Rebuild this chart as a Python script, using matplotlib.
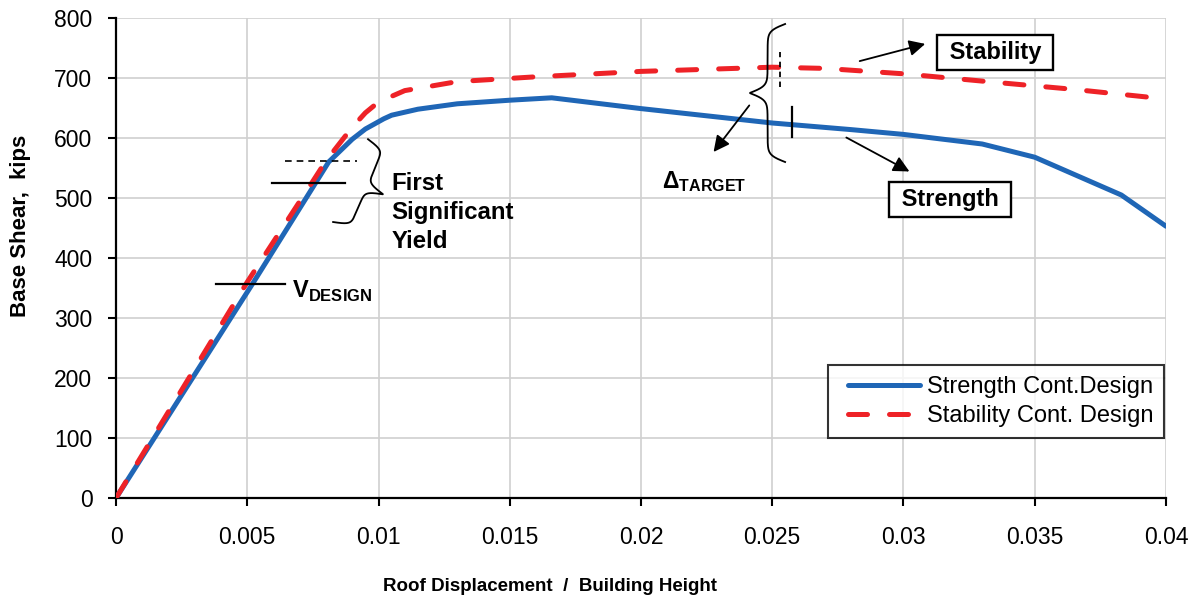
import numpy as np
import matplotlib
matplotlib.use("Agg")
import matplotlib.pyplot as plt
from matplotlib.legend_handler import HandlerLine2D

# pushover curves
drift_strength = [0, 0.0052, 0.0076, 0.0081, 0.009, 0.0095, 0.0102, 0.0105, 0.0115,
                  0.013, 0.015, 0.0166, 0.02, 0.025, 0.028, 0.03, 0.033, 0.035,
                  0.0383, 0.04]
shear_strength = [0, 357, 525, 560, 598, 615, 632, 638, 648,
                  657, 663, 667, 649, 625, 614, 606, 590, 568,
                  505, 453]

drift_stability = [0, 0.005, 0.0075, 0.008, 0.009, 0.0095, 0.01, 0.011, 0.013,
                   0.016, 0.02, 0.025, 0.027, 0.03, 0.0337, 0.0365, 0.04]
shear_stability = [0, 360, 528, 562, 618, 642, 660, 679, 694,
                   702, 711, 718, 716, 707, 692, 681, 665]

x_ticks = [0, 0.005, 0.01, 0.015, 0.02, 0.025, 0.03, 0.035, 0.04]
x_tick_labels = ['0', '0.005', '0.01', '0.015', '0.02', '0.025', '0.03', '0.035', '0.04']
y_ticks = [0, 100, 200, 300, 400, 500, 600, 700, 800]

plt.rcParams['font.family'] = ['Liberation Sans', 'DejaVu Sans']
plt.rcParams['mathtext.fontset'] = 'custom'
plt.rcParams['mathtext.rm'] = 'Liberation Sans:bold'
plt.rcParams['mathtext.bf'] = 'Liberation Sans:bold'

BLUE = '#1f66b6'
RED = '#ee2227'

fig = plt.figure(figsize=(11.95, 5.96), dpi=100)
ax = fig.add_axes([0.0971, 0.1644, 0.8786, 0.8054])

ax.plot(drift_strength, shear_strength, color=BLUE, lw=3.6,
        solid_capstyle='round', label='Strength Cont.Design', zorder=3)
ax.plot(drift_stability, shear_stability, color=RED, lw=3.6, dashes=(3.8, 4.4),
        dash_capstyle='round', label='Stability Cont. Design', zorder=4)

ax.set_xlim(0, 0.04)
ax.set_ylim(0, 800)
ax.set_xticks(x_ticks)
ax.set_xticklabels(x_tick_labels)
ax.set_yticks(y_ticks)
ax.tick_params(axis='both', direction='out', length=6, width=1.5, labelsize=16.5)
ax.tick_params(axis='x', pad=14)
ax.tick_params(axis='y', pad=11)
ax.grid(True, color='#d0d0d0', lw=1.2)
ax.set_axisbelow(True)
for s in ['top', 'right']:
    ax.spines[s].set_visible(False)
for s in ['left', 'bottom']:
    ax.spines[s].set_linewidth(1.6)

ax.set_xlabel('Roof Displacement  /  Building Height', fontsize=13.5, fontweight='bold')
ax.xaxis.set_label_coords(0.413, -0.166)
ax.set_ylabel('Base Shear,  kips', fontsize=16, fontweight='bold')
ax.yaxis.set_label_coords(-0.081, 0.567)

hmap = {ln: HandlerLine2D(xpad=0.4) for ln in ax.get_lines()}
leg = ax.legend(loc='lower right', bbox_to_anchor=(0.998, 0.126), fontsize=17,
                frameon=True, fancybox=False, handlelength=3.45, borderpad=0.45,
                labelspacing=0.3, handletextpad=0.3, borderaxespad=0, handler_map=hmap)
leg.get_frame().set_edgecolor('black')
leg.get_frame().set_linewidth(1.5)


def brace(p0, p1, depth, side=1, beta=40.0):
    # curly brace between two data points, depth in pixels
    a = ax.transData.transform(p0)
    b = ax.transData.transform(p1)
    d = b - a
    L = np.hypot(*d)
    u = d / L
    n = np.array([u[1], -u[0]]) * side
    s = np.linspace(0, 1, 400)
    half = s[:200]
    yh = 1 / (1 + np.exp(-beta * (half - half[0]))) + 1 / (1 + np.exp(-beta * (half - half[-1])))
    y = np.concatenate([yh, yh[::-1]]) - 0.5
    pts = a + np.outer(s * L, u) + np.outer(y * depth, n)
    pts = ax.transData.inverted().transform(pts)
    ax.plot(pts[:, 0], pts[:, 1], color='black', lw=1.3, zorder=5)


# first significant yield marks
ax.plot([0.0038, 0.00644], [357, 357], color='black', lw=1.6, zorder=5)
ax.plot([0.00594, 0.00872], [525, 525], color='black', lw=1.6, zorder=5)
ax.plot([0.00644, 0.00918], [562, 562], color='black', lw=1.2, ls=(0, (4, 3)), zorder=5)
brace((0.0096, 598), (0.00827, 460), 35, side=-1)
ax.text(0.0067, 344, r'V$_{\mathrm{DESIGN}}$', fontsize=17, fontweight='bold', va='center')
ax.text(0.0105, 476, 'First\nSignificant\nYield', fontsize=17.3, fontweight='bold',
        va='center', ha='left', linespacing=1.32)

# target displacement marks
ax.plot([0.0253, 0.0253], [685, 743], color='black', lw=1.3, ls=(0, (3, 2.5)), zorder=5)
ax.plot([0.02575, 0.02575], [602, 652], color='black', lw=1.6, zorder=5)
brace((0.02549, 790), (0.02549, 560), 35, side=1)
ax.text(0.0208, 528, 'Δ$_{\mathrm{TARGET}}$', fontsize=16.5, fontweight='bold', va='center')

arrow = dict(arrowstyle='-|>', color='black', lw=1.3, mutation_scale=24)
ax.annotate('', xy=(0.0227, 573), xytext=(0.02419, 658), arrowprops=arrow)
ax.annotate('', xy=(0.03093, 758), xytext=(0.02823, 727), arrowprops=arrow)
ax.annotate('', xy=(0.03032, 542), xytext=(0.02773, 603), arrowprops=arrow)

box = dict(boxstyle='square,pad=0.25', fc='white', ec='black', lw=1.7)
ax.text(0.03349, 743, ' Stability ', fontsize=17, fontweight='bold', ha='center', va='center', bbox=box)
ax.text(0.03177, 498, ' Strength ', fontsize=17, fontweight='bold', ha='center', va='center', bbox=box)

fig.savefig('out.png', dpi=100)
